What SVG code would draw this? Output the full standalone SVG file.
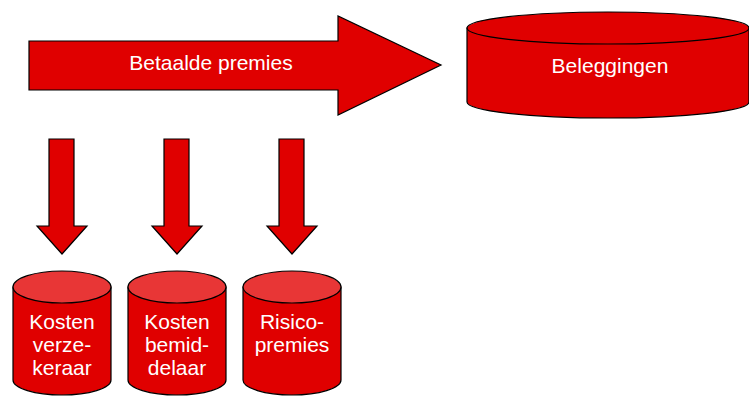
<svg xmlns="http://www.w3.org/2000/svg" width="749" height="396" viewBox="0 0 749 396">
<style>
.shape{fill:#e00000;stroke:#000;stroke-width:1.2;stroke-linejoin:miter}
.top{fill:#e00000;stroke:#000;stroke-width:1.2}
.toplight{fill:#e83636;stroke:#000;stroke-width:1.2}
.lbl{font-family:"Liberation Sans",Arial,sans-serif;font-size:21px;fill:#fff;text-anchor:middle}
</style>
<rect width="749" height="396" fill="#fff"/>
<g id="connectors">
<path class="shape" d="M29,41 L338,41 L338,16 L441,65 L338,115 L338,90 L29,90 Z"/>
<text class="lbl" x="211" y="70">Betaalde premies</text>
<path class="shape" d="M49,139 L74,139 L74,226 L87,226 L62,254 L37,226 L49,226 Z"/>
<path class="shape" d="M164,139 L189,139 L189,226 L202,226 L177,254 L152,226 L164,226 Z"/>
<path class="shape" d="M279,139 L304,139 L304,226 L317,226 L292,254 L267,226 L279,226 Z"/>
</g>
<g id="beleggingen">
<path class="shape" d="M467,28 L467,102 A141,16 0 0 0 749,102 L749,28 Z"/>
<ellipse class="top" cx="608" cy="28" rx="141" ry="16"/>
<text class="lbl" x="610" y="73">Beleggingen</text>
</g>
<g id="kosten-verzekeraar">
<path class="shape" d="M13,287 L13,380 A49,15 0 0 0 111,380 L111,287 Z"/>
<ellipse class="toplight" cx="62" cy="287" rx="49" ry="16"/>
<text class="lbl" x="62" y="329">Kosten</text>
<text class="lbl" x="62" y="352">verze-</text>
<text class="lbl" x="62" y="375">keraar</text>
</g>
<g id="kosten-bemiddelaar">
<path class="shape" d="M128,287 L128,380 A49,15 0 0 0 226,380 L226,287 Z"/>
<ellipse class="toplight" cx="177" cy="287" rx="49" ry="16"/>
<text class="lbl" x="177" y="329">Kosten</text>
<text class="lbl" x="177" y="352">bemid-</text>
<text class="lbl" x="177" y="375">delaar</text>
</g>
<g id="risicopremies">
<path class="shape" d="M243,287 L243,380 A49,15 0 0 0 341,380 L341,287 Z"/>
<ellipse class="toplight" cx="292" cy="287" rx="49" ry="16"/>
<text class="lbl" x="292" y="329">Risico-</text>
<text class="lbl" x="292" y="352">premies</text>
</g>
</svg>
